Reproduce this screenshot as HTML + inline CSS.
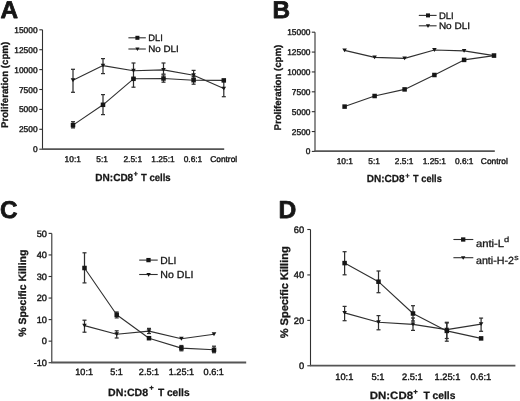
<!DOCTYPE html>
<html><head><meta charset="utf-8"><style>
html,body{margin:0;padding:0;background:#fff;}
svg{display:block;filter:grayscale(1);}
text{font-family:"Liberation Sans",sans-serif;fill:#161616;font-kerning:none;text-rendering:geometricPrecision;}
</style></head><body>
<svg width="520" height="401" viewBox="0 0 520 401">
<rect width="520" height="401" fill="#fff"/>
<text transform="translate(0.39 18.20)" font-size="24.3" font-weight="bold" stroke="#161616" stroke-width="0.75" stroke-linejoin="round">A</text>
<line x1="42.50" y1="29.80" x2="42.50" y2="149.20" stroke="#303030" stroke-width="1.1"/>
<line x1="39.30" y1="29.80" x2="42.50" y2="29.80" stroke="#303030" stroke-width="1.1"/>
<text transform="translate(14.27 32.83)" font-size="8.4" stroke="#161616" stroke-width="0.4" stroke-linejoin="round">15000</text>
<line x1="39.30" y1="49.70" x2="42.50" y2="49.70" stroke="#303030" stroke-width="1.1"/>
<text transform="translate(14.27 52.73)" font-size="8.4" stroke="#161616" stroke-width="0.4" stroke-linejoin="round">12500</text>
<line x1="39.30" y1="69.60" x2="42.50" y2="69.60" stroke="#303030" stroke-width="1.1"/>
<text transform="translate(14.27 72.63)" font-size="8.4" stroke="#161616" stroke-width="0.4" stroke-linejoin="round">10000</text>
<line x1="39.30" y1="89.50" x2="42.50" y2="89.50" stroke="#303030" stroke-width="1.1"/>
<text transform="translate(18.94 92.53)" font-size="8.4" stroke="#161616" stroke-width="0.4" stroke-linejoin="round">7500</text>
<line x1="39.30" y1="109.40" x2="42.50" y2="109.40" stroke="#303030" stroke-width="1.1"/>
<text transform="translate(18.94 112.43)" font-size="8.4" stroke="#161616" stroke-width="0.4" stroke-linejoin="round">5000</text>
<line x1="39.30" y1="129.30" x2="42.50" y2="129.30" stroke="#303030" stroke-width="1.1"/>
<text transform="translate(18.94 132.33)" font-size="8.4" stroke="#161616" stroke-width="0.4" stroke-linejoin="round">2500</text>
<line x1="39.30" y1="149.20" x2="42.50" y2="149.20" stroke="#303030" stroke-width="1.1"/>
<text transform="translate(32.96 152.23)" font-size="8.4" stroke="#161616" stroke-width="0.4" stroke-linejoin="round">0</text>
<line x1="42.00" y1="149.20" x2="224.20" y2="149.20" stroke="#555" stroke-width="1.8"/>
<text transform="translate(64.56 161.50)" font-size="8.4" stroke="#161616" stroke-width="0.4" stroke-linejoin="round">10:1</text>
<text transform="translate(96.30 161.50)" font-size="8.4" stroke="#161616" stroke-width="0.4" stroke-linejoin="round">5:1</text>
<text transform="translate(123.45 161.50)" font-size="8.4" stroke="#161616" stroke-width="0.4" stroke-linejoin="round">2.5:1</text>
<text transform="translate(151.36 161.50)" font-size="8.4" stroke="#161616" stroke-width="0.4" stroke-linejoin="round">1.25:1</text>
<text transform="translate(183.65 161.50)" font-size="8.4" stroke="#161616" stroke-width="0.4" stroke-linejoin="round">0.6:1</text>
<text transform="translate(210.18 161.50)" font-size="8.4" stroke="#161616" stroke-width="0.4" stroke-linejoin="round">Control</text>
<text transform="translate(95.33 180.50) scale(0.9735 1)" font-size="10.3" font-weight="bold" stroke="#161616" stroke-width="0.25" stroke-linejoin="round">DN:CD8</text>
<text transform="translate(133.71 175.59)" font-size="6.798000000000001" font-weight="bold" stroke="#161616" stroke-width="0.45" stroke-linejoin="round">+</text>
<text transform="translate(140.89 180.50) scale(0.9295 1)" font-size="10.3" font-weight="bold" stroke="#161616" stroke-width="0.25" stroke-linejoin="round">T cells</text>
<text transform="translate(8.20 128.05) rotate(-90) scale(0.9949 1)" font-size="9.75" font-weight="bold" stroke="#161616" stroke-width="0.3" stroke-linejoin="round">Proliferation (cpm)</text>
<line x1="73.00" y1="69.30" x2="73.00" y2="92.30" stroke="#303030" stroke-width="1.25"/>
<line x1="71.00" y1="69.30" x2="75.00" y2="69.30" stroke="#303030" stroke-width="1.25"/>
<line x1="71.00" y1="92.30" x2="75.00" y2="92.30" stroke="#303030" stroke-width="1.25"/>
<line x1="103.00" y1="58.60" x2="103.00" y2="73.60" stroke="#303030" stroke-width="1.25"/>
<line x1="101.00" y1="58.60" x2="105.00" y2="58.60" stroke="#303030" stroke-width="1.25"/>
<line x1="101.00" y1="73.60" x2="105.00" y2="73.60" stroke="#303030" stroke-width="1.25"/>
<line x1="133.50" y1="63.00" x2="133.50" y2="78.00" stroke="#303030" stroke-width="1.25"/>
<line x1="131.50" y1="63.00" x2="135.50" y2="63.00" stroke="#303030" stroke-width="1.25"/>
<line x1="131.50" y1="78.00" x2="135.50" y2="78.00" stroke="#303030" stroke-width="1.25"/>
<line x1="163.50" y1="63.00" x2="163.50" y2="74.10" stroke="#303030" stroke-width="1.25"/>
<line x1="161.50" y1="63.00" x2="165.50" y2="63.00" stroke="#303030" stroke-width="1.25"/>
<line x1="161.50" y1="74.10" x2="165.50" y2="74.10" stroke="#303030" stroke-width="1.25"/>
<line x1="193.60" y1="70.40" x2="193.60" y2="78.00" stroke="#303030" stroke-width="1.25"/>
<line x1="191.60" y1="70.40" x2="195.60" y2="70.40" stroke="#303030" stroke-width="1.25"/>
<line x1="191.60" y1="78.00" x2="195.60" y2="78.00" stroke="#303030" stroke-width="1.25"/>
<line x1="73.00" y1="121.70" x2="73.00" y2="127.90" stroke="#303030" stroke-width="1.25"/>
<line x1="71.00" y1="121.70" x2="75.00" y2="121.70" stroke="#303030" stroke-width="1.25"/>
<line x1="71.00" y1="127.90" x2="75.00" y2="127.90" stroke="#303030" stroke-width="1.25"/>
<line x1="103.00" y1="94.60" x2="103.00" y2="114.60" stroke="#303030" stroke-width="1.25"/>
<line x1="101.00" y1="94.60" x2="105.00" y2="94.60" stroke="#303030" stroke-width="1.25"/>
<line x1="101.00" y1="114.60" x2="105.00" y2="114.60" stroke="#303030" stroke-width="1.25"/>
<line x1="133.50" y1="78.80" x2="133.50" y2="87.20" stroke="#303030" stroke-width="1.25"/>
<line x1="131.50" y1="78.80" x2="135.50" y2="78.80" stroke="#303030" stroke-width="1.25"/>
<line x1="131.50" y1="87.20" x2="135.50" y2="87.20" stroke="#303030" stroke-width="1.25"/>
<line x1="163.50" y1="75.00" x2="163.50" y2="82.20" stroke="#303030" stroke-width="1.25"/>
<line x1="161.50" y1="75.00" x2="165.50" y2="75.00" stroke="#303030" stroke-width="1.25"/>
<line x1="161.50" y1="82.20" x2="165.50" y2="82.20" stroke="#303030" stroke-width="1.25"/>
<line x1="193.60" y1="76.50" x2="193.60" y2="84.20" stroke="#303030" stroke-width="1.25"/>
<line x1="191.60" y1="76.50" x2="195.60" y2="76.50" stroke="#303030" stroke-width="1.25"/>
<line x1="191.60" y1="84.20" x2="195.60" y2="84.20" stroke="#303030" stroke-width="1.25"/>
<line x1="223.80" y1="81.00" x2="223.80" y2="96.70" stroke="#303030" stroke-width="1.25"/>
<line x1="221.80" y1="81.00" x2="225.80" y2="81.00" stroke="#303030" stroke-width="1.25"/>
<line x1="221.80" y1="96.70" x2="225.80" y2="96.70" stroke="#303030" stroke-width="1.25"/>
<polyline points="73.00,125.10 103.00,104.80 133.50,78.80 163.50,78.50 193.60,80.20 223.80,80.40" fill="none" stroke="#303030" stroke-width="1.1" stroke-linejoin="round"/>
<polyline points="73.00,80.20 103.00,65.60 133.50,70.70 163.50,69.90 193.60,75.30 223.80,88.60" fill="none" stroke="#303030" stroke-width="1.1" stroke-linejoin="round"/>
<rect x="70.75" y="122.85" width="4.5" height="4.5" fill="#161616"/>
<rect x="100.75" y="102.55" width="4.5" height="4.5" fill="#161616"/>
<rect x="131.25" y="76.55" width="4.5" height="4.5" fill="#161616"/>
<rect x="161.25" y="76.25" width="4.5" height="4.5" fill="#161616"/>
<rect x="191.35" y="77.95" width="4.5" height="4.5" fill="#161616"/>
<rect x="221.55" y="78.15" width="4.5" height="4.5" fill="#161616"/>
<path d="M70.70 78.25H75.30L73.00 82.16Z" fill="#161616"/>
<path d="M100.70 63.64H105.30L103.00 67.55Z" fill="#161616"/>
<path d="M131.20 68.75H135.80L133.50 72.66Z" fill="#161616"/>
<path d="M161.20 67.95H165.80L163.50 71.86Z" fill="#161616"/>
<path d="M191.30 73.34H195.90L193.60 77.25Z" fill="#161616"/>
<path d="M221.50 86.64H226.10L223.80 90.55Z" fill="#161616"/>
<line x1="128.40" y1="37.80" x2="145.80" y2="37.80" stroke="#303030" stroke-width="1.1"/>
<rect x="135.40" y="35.80" width="4.0" height="4.0" fill="#161616"/>
<text transform="translate(148.23 40.60)" font-size="9.4" stroke="#161616" stroke-width="0.3" stroke-linejoin="round">DLI</text>
<line x1="128.40" y1="49.00" x2="145.80" y2="49.00" stroke="#303030" stroke-width="1.1"/>
<path d="M135.30 47.52H139.50L137.40 51.08Z" fill="#161616"/>
<text transform="translate(148.19 52.40) scale(1.0465 1)" font-size="9.4" stroke="#161616" stroke-width="0.3" stroke-linejoin="round">No DLI</text>
<text transform="translate(272.57 18.20)" font-size="24.3" font-weight="bold" stroke="#161616" stroke-width="0.75" stroke-linejoin="round">B</text>
<line x1="315.00" y1="32.20" x2="315.00" y2="151.42" stroke="#303030" stroke-width="1.1"/>
<line x1="311.80" y1="32.20" x2="315.00" y2="32.20" stroke="#303030" stroke-width="1.1"/>
<text transform="translate(287.17 35.23)" font-size="8.4" stroke="#161616" stroke-width="0.4" stroke-linejoin="round">15000</text>
<line x1="311.80" y1="52.07" x2="315.00" y2="52.07" stroke="#303030" stroke-width="1.1"/>
<text transform="translate(287.17 55.10)" font-size="8.4" stroke="#161616" stroke-width="0.4" stroke-linejoin="round">12500</text>
<line x1="311.80" y1="71.94" x2="315.00" y2="71.94" stroke="#303030" stroke-width="1.1"/>
<text transform="translate(287.17 74.97)" font-size="8.4" stroke="#161616" stroke-width="0.4" stroke-linejoin="round">10000</text>
<line x1="311.80" y1="91.81" x2="315.00" y2="91.81" stroke="#303030" stroke-width="1.1"/>
<text transform="translate(291.84 94.84)" font-size="8.4" stroke="#161616" stroke-width="0.4" stroke-linejoin="round">7500</text>
<line x1="311.80" y1="111.68" x2="315.00" y2="111.68" stroke="#303030" stroke-width="1.1"/>
<text transform="translate(291.84 114.71)" font-size="8.4" stroke="#161616" stroke-width="0.4" stroke-linejoin="round">5000</text>
<line x1="311.80" y1="131.55" x2="315.00" y2="131.55" stroke="#303030" stroke-width="1.1"/>
<text transform="translate(291.84 134.58)" font-size="8.4" stroke="#161616" stroke-width="0.4" stroke-linejoin="round">2500</text>
<line x1="311.80" y1="151.42" x2="315.00" y2="151.42" stroke="#303030" stroke-width="1.1"/>
<text transform="translate(305.86 154.45)" font-size="8.4" stroke="#161616" stroke-width="0.4" stroke-linejoin="round">0</text>
<line x1="314.50" y1="151.10" x2="494.80" y2="151.10" stroke="#555" stroke-width="1.8"/>
<text transform="translate(336.71 163.50)" font-size="8.4" stroke="#161616" stroke-width="0.4" stroke-linejoin="round">10:1</text>
<text transform="translate(368.30 163.50)" font-size="8.4" stroke="#161616" stroke-width="0.4" stroke-linejoin="round">5:1</text>
<text transform="translate(394.85 163.50)" font-size="8.4" stroke="#161616" stroke-width="0.4" stroke-linejoin="round">2.5:1</text>
<text transform="translate(422.71 163.50)" font-size="8.4" stroke="#161616" stroke-width="0.4" stroke-linejoin="round">1.25:1</text>
<text transform="translate(454.90 163.50)" font-size="8.4" stroke="#161616" stroke-width="0.4" stroke-linejoin="round">0.6:1</text>
<text transform="translate(480.83 163.50)" font-size="8.4" stroke="#161616" stroke-width="0.4" stroke-linejoin="round">Control</text>
<text transform="translate(366.73 182.20) scale(0.9735 1)" font-size="10.3" font-weight="bold" stroke="#161616" stroke-width="0.25" stroke-linejoin="round">DN:CD8</text>
<text transform="translate(405.51 177.79)" font-size="6.798000000000001" font-weight="bold" stroke="#161616" stroke-width="0.45" stroke-linejoin="round">+</text>
<text transform="translate(413.10 182.20) scale(0.8946 1)" font-size="10.3" font-weight="bold" stroke="#161616" stroke-width="0.25" stroke-linejoin="round">T cells</text>
<text transform="translate(281.00 130.45) rotate(-90) scale(0.9953 1)" font-size="9.7" font-weight="bold" stroke="#161616" stroke-width="0.3" stroke-linejoin="round">Proliferation (cpm)</text>
<polyline points="344.60,106.60 374.60,96.00 404.60,89.40 434.40,75.00 464.10,59.90 494.00,55.60" fill="none" stroke="#303030" stroke-width="1.1" stroke-linejoin="round"/>
<polyline points="344.60,50.40 374.60,57.40 404.60,58.40 434.40,50.00 464.10,50.90 494.00,55.60" fill="none" stroke="#303030" stroke-width="1.1" stroke-linejoin="round"/>
<rect x="342.35" y="104.35" width="4.5" height="4.5" fill="#161616"/>
<rect x="372.35" y="93.75" width="4.5" height="4.5" fill="#161616"/>
<rect x="402.35" y="87.15" width="4.5" height="4.5" fill="#161616"/>
<rect x="432.15" y="72.75" width="4.5" height="4.5" fill="#161616"/>
<rect x="461.85" y="57.65" width="4.5" height="4.5" fill="#161616"/>
<rect x="491.75" y="53.35" width="4.5" height="4.5" fill="#161616"/>
<path d="M342.30 48.45H346.90L344.60 52.35Z" fill="#161616"/>
<path d="M372.30 55.45H376.90L374.60 59.35Z" fill="#161616"/>
<path d="M402.30 56.45H406.90L404.60 60.35Z" fill="#161616"/>
<path d="M432.10 48.05H436.70L434.40 51.95Z" fill="#161616"/>
<path d="M461.80 48.95H466.40L464.10 52.85Z" fill="#161616"/>
<path d="M491.70 53.65H496.30L494.00 57.55Z" fill="#161616"/>
<line x1="418.80" y1="15.40" x2="436.60" y2="15.40" stroke="#303030" stroke-width="1.1"/>
<rect x="426.00" y="13.40" width="4.0" height="4.0" fill="#161616"/>
<text transform="translate(438.92 18.70)" font-size="9.5" stroke="#161616" stroke-width="0.3" stroke-linejoin="round">DLI</text>
<line x1="418.80" y1="25.80" x2="436.60" y2="25.80" stroke="#303030" stroke-width="1.1"/>
<path d="M425.90 24.32H430.10L428.00 27.89Z" fill="#161616"/>
<text transform="translate(438.88 29.20) scale(1.0534 1)" font-size="9.5" stroke="#161616" stroke-width="0.3" stroke-linejoin="round">No DLI</text>
<text transform="translate(-0.10 218.20)" font-size="24.3" font-weight="bold" stroke="#161616" stroke-width="0.75" stroke-linejoin="round">C</text>
<line x1="51.80" y1="233.40" x2="51.80" y2="362.70" stroke="#303030" stroke-width="1.1"/>
<line x1="48.60" y1="233.40" x2="51.80" y2="233.40" stroke="#303030" stroke-width="1.1"/>
<text transform="translate(36.73 236.71)" font-size="9.2" stroke="#161616" stroke-width="0.4" stroke-linejoin="round">50</text>
<line x1="48.60" y1="254.95" x2="51.80" y2="254.95" stroke="#303030" stroke-width="1.1"/>
<text transform="translate(36.73 258.26)" font-size="9.2" stroke="#161616" stroke-width="0.4" stroke-linejoin="round">40</text>
<line x1="48.60" y1="276.50" x2="51.80" y2="276.50" stroke="#303030" stroke-width="1.1"/>
<text transform="translate(36.73 279.81)" font-size="9.2" stroke="#161616" stroke-width="0.4" stroke-linejoin="round">30</text>
<line x1="48.60" y1="298.05" x2="51.80" y2="298.05" stroke="#303030" stroke-width="1.1"/>
<text transform="translate(36.73 301.36)" font-size="9.2" stroke="#161616" stroke-width="0.4" stroke-linejoin="round">20</text>
<line x1="48.60" y1="319.60" x2="51.80" y2="319.60" stroke="#303030" stroke-width="1.1"/>
<text transform="translate(36.73 322.91)" font-size="9.2" stroke="#161616" stroke-width="0.4" stroke-linejoin="round">10</text>
<line x1="48.60" y1="341.15" x2="51.80" y2="341.15" stroke="#303030" stroke-width="1.1"/>
<text transform="translate(41.84 344.46)" font-size="9.2" stroke="#161616" stroke-width="0.4" stroke-linejoin="round">0</text>
<line x1="48.60" y1="362.70" x2="51.80" y2="362.70" stroke="#303030" stroke-width="1.1"/>
<text transform="translate(33.66 366.01)" font-size="9.2" stroke="#161616" stroke-width="0.4" stroke-linejoin="round">-10</text>
<line x1="51.30" y1="362.50" x2="246.20" y2="362.50" stroke="#555" stroke-width="1.8"/>
<text transform="translate(75.27 375.30)" font-size="9.1" stroke="#161616" stroke-width="0.4" stroke-linejoin="round">10:1</text>
<text transform="translate(110.21 375.30)" font-size="9.1" stroke="#161616" stroke-width="0.4" stroke-linejoin="round">5:1</text>
<text transform="translate(138.82 375.30)" font-size="9.1" stroke="#161616" stroke-width="0.4" stroke-linejoin="round">2.5:1</text>
<text transform="translate(168.78 375.30)" font-size="9.1" stroke="#161616" stroke-width="0.4" stroke-linejoin="round">1.25:1</text>
<text transform="translate(203.57 375.30)" font-size="9.1" stroke="#161616" stroke-width="0.4" stroke-linejoin="round">0.6:1</text>
<text transform="translate(108.09 395.50) scale(1.0093 1)" font-size="10.5" font-weight="bold" stroke="#161616" stroke-width="0.25" stroke-linejoin="round">DN:CD8</text>
<text transform="translate(149.51 389.76)" font-size="6.930000000000001" font-weight="bold" stroke="#161616" stroke-width="0.45" stroke-linejoin="round">+</text>
<text transform="translate(157.89 395.50) scale(0.9709 1)" font-size="10.5" font-weight="bold" stroke="#161616" stroke-width="0.25" stroke-linejoin="round">T cells</text>
<text transform="translate(25.60 336.76) rotate(-90) scale(0.9959 1)" font-size="10.5" font-weight="bold" stroke="#161616" stroke-width="0.3" stroke-linejoin="round">% Specific Killing</text>
<line x1="84.50" y1="252.80" x2="84.50" y2="282.90" stroke="#303030" stroke-width="1.25"/>
<line x1="82.50" y1="252.80" x2="86.50" y2="252.80" stroke="#303030" stroke-width="1.25"/>
<line x1="82.50" y1="282.90" x2="86.50" y2="282.90" stroke="#303030" stroke-width="1.25"/>
<line x1="116.70" y1="312.00" x2="116.70" y2="317.90" stroke="#303030" stroke-width="1.25"/>
<line x1="114.70" y1="312.00" x2="118.70" y2="312.00" stroke="#303030" stroke-width="1.25"/>
<line x1="114.70" y1="317.90" x2="118.70" y2="317.90" stroke="#303030" stroke-width="1.25"/>
<line x1="181.40" y1="345.50" x2="181.40" y2="350.80" stroke="#303030" stroke-width="1.25"/>
<line x1="179.40" y1="345.50" x2="183.40" y2="345.50" stroke="#303030" stroke-width="1.25"/>
<line x1="179.40" y1="350.80" x2="183.40" y2="350.80" stroke="#303030" stroke-width="1.25"/>
<line x1="214.00" y1="346.20" x2="214.00" y2="352.70" stroke="#303030" stroke-width="1.25"/>
<line x1="212.00" y1="346.20" x2="216.00" y2="346.20" stroke="#303030" stroke-width="1.25"/>
<line x1="212.00" y1="352.70" x2="216.00" y2="352.70" stroke="#303030" stroke-width="1.25"/>
<line x1="84.50" y1="320.20" x2="84.50" y2="332.20" stroke="#303030" stroke-width="1.25"/>
<line x1="82.50" y1="320.20" x2="86.50" y2="320.20" stroke="#303030" stroke-width="1.25"/>
<line x1="82.50" y1="332.20" x2="86.50" y2="332.20" stroke="#303030" stroke-width="1.25"/>
<line x1="116.70" y1="330.80" x2="116.70" y2="338.00" stroke="#303030" stroke-width="1.25"/>
<line x1="114.70" y1="330.80" x2="118.70" y2="330.80" stroke="#303030" stroke-width="1.25"/>
<line x1="114.70" y1="338.00" x2="118.70" y2="338.00" stroke="#303030" stroke-width="1.25"/>
<line x1="149.00" y1="328.40" x2="149.00" y2="333.50" stroke="#303030" stroke-width="1.25"/>
<line x1="147.00" y1="328.40" x2="151.00" y2="328.40" stroke="#303030" stroke-width="1.25"/>
<line x1="147.00" y1="333.50" x2="151.00" y2="333.50" stroke="#303030" stroke-width="1.25"/>
<polyline points="84.50,268.00 116.70,314.80 149.00,338.20 181.40,348.10 214.00,349.80" fill="none" stroke="#303030" stroke-width="1.1" stroke-linejoin="round"/>
<polyline points="84.50,325.60 116.70,334.30 149.00,331.10 181.40,338.80 214.00,334.20" fill="none" stroke="#303030" stroke-width="1.1" stroke-linejoin="round"/>
<rect x="82.25" y="265.75" width="4.5" height="4.5" fill="#161616"/>
<rect x="114.45" y="312.55" width="4.5" height="4.5" fill="#161616"/>
<rect x="146.75" y="335.95" width="4.5" height="4.5" fill="#161616"/>
<rect x="179.15" y="345.85" width="4.5" height="4.5" fill="#161616"/>
<rect x="211.75" y="347.55" width="4.5" height="4.5" fill="#161616"/>
<path d="M82.20 323.65H86.80L84.50 327.56Z" fill="#161616"/>
<path d="M114.40 332.35H119.00L116.70 336.25Z" fill="#161616"/>
<path d="M146.70 329.15H151.30L149.00 333.06Z" fill="#161616"/>
<path d="M179.10 336.85H183.70L181.40 340.75Z" fill="#161616"/>
<path d="M211.70 332.25H216.30L214.00 336.15Z" fill="#161616"/>
<line x1="139.20" y1="260.10" x2="157.70" y2="260.10" stroke="#303030" stroke-width="1.1"/>
<rect x="146.35" y="257.95" width="4.3" height="4.3" fill="#161616"/>
<text transform="translate(160.36 263.70)" font-size="10.3" stroke="#161616" stroke-width="0.3" stroke-linejoin="round">DLI</text>
<line x1="139.20" y1="274.50" x2="157.70" y2="274.50" stroke="#303030" stroke-width="1.1"/>
<path d="M146.40 273.03H150.80L148.60 276.77Z" fill="#161616"/>
<text transform="translate(160.33 278.20) scale(1.0310 1)" font-size="10.3" stroke="#161616" stroke-width="0.3" stroke-linejoin="round">No DLI</text>
<text transform="translate(278.45 217.60)" font-size="24.6" font-weight="bold" stroke="#161616" stroke-width="0.75" stroke-linejoin="round">D</text>
<line x1="310.50" y1="229.50" x2="310.50" y2="365.79" stroke="#303030" stroke-width="1.1"/>
<line x1="307.30" y1="229.50" x2="310.50" y2="229.50" stroke="#303030" stroke-width="1.1"/>
<text transform="translate(293.72 232.85)" font-size="9.3" stroke="#161616" stroke-width="0.4" stroke-linejoin="round">60</text>
<line x1="307.30" y1="274.93" x2="310.50" y2="274.93" stroke="#303030" stroke-width="1.1"/>
<text transform="translate(293.72 278.28)" font-size="9.3" stroke="#161616" stroke-width="0.4" stroke-linejoin="round">40</text>
<line x1="307.30" y1="320.36" x2="310.50" y2="320.36" stroke="#303030" stroke-width="1.1"/>
<text transform="translate(293.72 323.71)" font-size="9.3" stroke="#161616" stroke-width="0.4" stroke-linejoin="round">20</text>
<line x1="307.30" y1="365.79" x2="310.50" y2="365.79" stroke="#303030" stroke-width="1.1"/>
<text transform="translate(298.89 369.14)" font-size="9.3" stroke="#161616" stroke-width="0.4" stroke-linejoin="round">0</text>
<line x1="310.00" y1="365.60" x2="515.40" y2="365.60" stroke="#555" stroke-width="1.8"/>
<text transform="translate(335.22 379.60)" font-size="9.3" stroke="#161616" stroke-width="0.4" stroke-linejoin="round">10:1</text>
<text transform="translate(371.58 379.60)" font-size="9.3" stroke="#161616" stroke-width="0.4" stroke-linejoin="round">5:1</text>
<text transform="translate(402.05 379.60)" font-size="9.3" stroke="#161616" stroke-width="0.4" stroke-linejoin="round">2.5:1</text>
<text transform="translate(434.49 379.60)" font-size="9.3" stroke="#161616" stroke-width="0.4" stroke-linejoin="round">1.25:1</text>
<text transform="translate(470.50 379.60)" font-size="9.3" stroke="#161616" stroke-width="0.4" stroke-linejoin="round">0.6:1</text>
<text transform="translate(369.73 399.40) scale(1.0818 1)" font-size="10.6" font-weight="bold" stroke="#161616" stroke-width="0.25" stroke-linejoin="round">DN:CD8</text>
<text transform="translate(413.61 394.40)" font-size="6.996" font-weight="bold" stroke="#161616" stroke-width="0.45" stroke-linejoin="round">+</text>
<text transform="translate(423.38 399.40) scale(0.9710 1)" font-size="10.6" font-weight="bold" stroke="#161616" stroke-width="0.25" stroke-linejoin="round">T cells</text>
<text transform="translate(288.00 338.27) rotate(-90) scale(1.0036 1)" font-size="11.0" font-weight="bold" stroke="#161616" stroke-width="0.3" stroke-linejoin="round">% Specific Killing</text>
<line x1="344.60" y1="251.70" x2="344.60" y2="274.80" stroke="#303030" stroke-width="1.25"/>
<line x1="342.60" y1="251.70" x2="346.60" y2="251.70" stroke="#303030" stroke-width="1.25"/>
<line x1="342.60" y1="274.80" x2="346.60" y2="274.80" stroke="#303030" stroke-width="1.25"/>
<line x1="378.50" y1="271.00" x2="378.50" y2="292.70" stroke="#303030" stroke-width="1.25"/>
<line x1="376.50" y1="271.00" x2="380.50" y2="271.00" stroke="#303030" stroke-width="1.25"/>
<line x1="376.50" y1="292.70" x2="380.50" y2="292.70" stroke="#303030" stroke-width="1.25"/>
<line x1="413.00" y1="305.70" x2="413.00" y2="321.00" stroke="#303030" stroke-width="1.25"/>
<line x1="411.00" y1="305.70" x2="415.00" y2="305.70" stroke="#303030" stroke-width="1.25"/>
<line x1="411.00" y1="321.00" x2="415.00" y2="321.00" stroke="#303030" stroke-width="1.25"/>
<line x1="446.80" y1="323.00" x2="446.80" y2="338.50" stroke="#303030" stroke-width="1.25"/>
<line x1="444.80" y1="323.00" x2="448.80" y2="323.00" stroke="#303030" stroke-width="1.25"/>
<line x1="444.80" y1="338.50" x2="448.80" y2="338.50" stroke="#303030" stroke-width="1.25"/>
<line x1="344.60" y1="306.40" x2="344.60" y2="320.70" stroke="#303030" stroke-width="1.25"/>
<line x1="342.60" y1="306.40" x2="346.60" y2="306.40" stroke="#303030" stroke-width="1.25"/>
<line x1="342.60" y1="320.70" x2="346.60" y2="320.70" stroke="#303030" stroke-width="1.25"/>
<line x1="378.50" y1="315.60" x2="378.50" y2="329.80" stroke="#303030" stroke-width="1.25"/>
<line x1="376.50" y1="315.60" x2="380.50" y2="315.60" stroke="#303030" stroke-width="1.25"/>
<line x1="376.50" y1="329.80" x2="380.50" y2="329.80" stroke="#303030" stroke-width="1.25"/>
<line x1="413.00" y1="318.00" x2="413.00" y2="330.40" stroke="#303030" stroke-width="1.25"/>
<line x1="411.00" y1="318.00" x2="415.00" y2="318.00" stroke="#303030" stroke-width="1.25"/>
<line x1="411.00" y1="330.40" x2="415.00" y2="330.40" stroke="#303030" stroke-width="1.25"/>
<line x1="446.80" y1="322.30" x2="446.80" y2="341.20" stroke="#303030" stroke-width="1.25"/>
<line x1="444.80" y1="322.30" x2="448.80" y2="322.30" stroke="#303030" stroke-width="1.25"/>
<line x1="444.80" y1="341.20" x2="448.80" y2="341.20" stroke="#303030" stroke-width="1.25"/>
<line x1="481.10" y1="318.10" x2="481.10" y2="331.30" stroke="#303030" stroke-width="1.25"/>
<line x1="479.10" y1="318.10" x2="483.10" y2="318.10" stroke="#303030" stroke-width="1.25"/>
<line x1="479.10" y1="331.30" x2="483.10" y2="331.30" stroke="#303030" stroke-width="1.25"/>
<polyline points="344.60,263.10 378.50,281.70 413.00,313.50 446.80,330.90 481.10,338.40" fill="none" stroke="#303030" stroke-width="1.1" stroke-linejoin="round"/>
<polyline points="344.60,312.90 378.50,322.20 413.00,324.40 446.80,329.60 481.10,324.10" fill="none" stroke="#303030" stroke-width="1.1" stroke-linejoin="round"/>
<rect x="342.35" y="260.85" width="4.5" height="4.5" fill="#161616"/>
<rect x="376.25" y="279.45" width="4.5" height="4.5" fill="#161616"/>
<rect x="410.75" y="311.25" width="4.5" height="4.5" fill="#161616"/>
<rect x="444.55" y="328.65" width="4.5" height="4.5" fill="#161616"/>
<rect x="478.85" y="336.15" width="4.5" height="4.5" fill="#161616"/>
<path d="M342.30 310.94H346.90L344.60 314.85Z" fill="#161616"/>
<path d="M376.20 320.25H380.80L378.50 324.15Z" fill="#161616"/>
<path d="M410.70 322.44H415.30L413.00 326.35Z" fill="#161616"/>
<path d="M444.50 327.65H449.10L446.80 331.56Z" fill="#161616"/>
<path d="M478.80 322.15H483.40L481.10 326.06Z" fill="#161616"/>
<line x1="453.40" y1="239.50" x2="473.30" y2="239.50" stroke="#303030" stroke-width="1.1"/>
<rect x="461.05" y="237.35" width="4.3" height="4.3" fill="#161616"/>
<text transform="translate(475.92 246.60) scale(1.0861 1)" font-size="10.4" stroke="#161616" stroke-width="0.3" stroke-linejoin="round">anti-L</text>
<text transform="translate(503.91 241.80) scale(1.2289 1)" font-size="7.6" stroke="#161616" stroke-width="0.25" stroke-linejoin="round">d</text>
<line x1="453.40" y1="257.70" x2="473.30" y2="257.70" stroke="#303030" stroke-width="1.1"/>
<path d="M461.00 256.13H465.40L463.20 259.87Z" fill="#161616"/>
<text transform="translate(475.95 264.40) scale(1.0299 1)" font-size="10.4" stroke="#161616" stroke-width="0.3" stroke-linejoin="round">anti-H-2</text>
<text transform="translate(514.36 259.80) scale(1.1467 1)" font-size="7.6" stroke="#161616" stroke-width="0.25" stroke-linejoin="round">s</text>
</svg>
</body></html>
